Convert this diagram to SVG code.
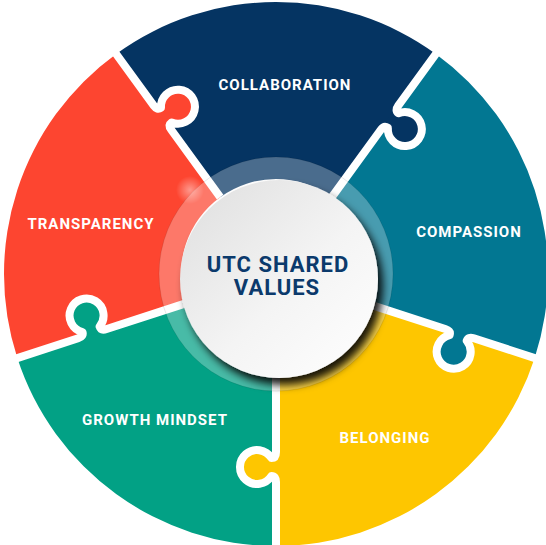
<svg xmlns="http://www.w3.org/2000/svg" width="546" height="545" viewBox="0 0 546 545">
  <defs>
    <!-- one 72-degree ring piece, drawn about the wheel centre -->
    <path id="sector" d="M 272 0 A 272 272 0 0 1 84.05 258.69 L 29.36 90.35 A 95 95 0 0 0 95 0 Z"/>
    <!-- puzzle tab that sits on the clockwise edge of a piece -->
    <path id="tab" d="M 184 -1 L 184 4.6 A 17 17 0 1 0 202 4.6 L 202 -1 Z"/>
    <!-- white seam between two pieces, including the tab outline -->
    <path id="seam" d="M 95 0 L 178 0 Q 184 0 184 4.6 A 17 17 0 1 0 202 4.6 Q 202 0 208 0 L 292 0"/>
    <linearGradient id="hubFill" x1="0" y1="0" x2="1" y2="1">
      <stop offset="0" stop-color="#dedede"/>
      <stop offset="0.55" stop-color="#f4f4f4"/>
      <stop offset="1" stop-color="#ffffff"/>
    </linearGradient>
    <radialGradient id="glow">
      <stop offset="0" stop-color="#ffffff" stop-opacity="0.45"/>
      <stop offset="1" stop-color="#ffffff" stop-opacity="0"/>
    </radialGradient>
    <filter id="hubShadow" x="-20%" y="-20%" width="150%" height="150%">
      <feGaussianBlur in="SourceAlpha" stdDeviation="4"/>
      <feOffset dx="5" dy="7" result="blur"/>
      <feFlood flood-color="#000000" flood-opacity="0.9"/>
      <feComposite in2="blur" operator="in"/>
      <feMerge>
        <feMergeNode/>
        <feMergeNode in="SourceGraphic"/>
      </feMerge>
    </filter>
    <style>
      .navy { fill: #053462; }
      .teal { fill: #027792; }
      .gold { fill: #fec600; }
      .green { fill: #02a185; }
      .red { fill: #fd4530; }
      .seam { fill: none; stroke: #ffffff; stroke-width: 8; stroke-linejoin: round; }
      .label { font-family: Roboto, "Liberation Sans", sans-serif; font-weight: 700; font-size: 15px; letter-spacing: 1px; fill: #ffffff; text-anchor: middle; }
      .title { font-family: Roboto, "Liberation Sans", sans-serif; font-weight: 700; font-size: 22px; letter-spacing: 1px; fill: #0b3a6c; text-anchor: middle; }
    </style>
  </defs>

  <rect width="546" height="545" fill="#ffffff"/>

  <g id="collaboration">
    <use href="#sector" class="navy" transform="translate(276 274) rotate(-126)"/>
    <text class="label" x="285" y="90">COLLABORATION</text>
  </g>
  <g id="compassion">
    <use href="#sector" class="teal" transform="translate(276 274) rotate(-54)"/>
    <text class="label" x="469" y="237">COMPASSION</text>
  </g>
  <g id="belonging">
    <use href="#sector" class="gold" transform="translate(276 274) rotate(18)"/>
    <text class="label" x="385" y="443">BELONGING</text>
  </g>
  <g id="growth-mindset">
    <use href="#sector" class="green" transform="translate(276 274) rotate(90)"/>
    <text class="label" x="155" y="425">GROWTH MINDSET</text>
  </g>
  <g id="transparency">
    <use href="#sector" class="red" transform="translate(276 274) rotate(162)"/>
    <text class="label" x="91" y="229">TRANSPARENCY</text>
  </g>

  <!-- interlocking tabs and the white seams between the pieces -->
  <g id="seams" transform="translate(276 274)">
    <use href="#tab" class="red" transform="rotate(-126)"/>
    <use href="#tab" class="navy" transform="rotate(-54)"/>
    <use href="#tab" class="teal" transform="rotate(18)"/>
    <use href="#tab" class="gold" transform="rotate(90)"/>
    <use href="#tab" class="green" transform="rotate(162)"/>
    <use href="#seam" class="seam" transform="rotate(-126)"/>
    <use href="#seam" class="seam" transform="rotate(-54)"/>
    <use href="#seam" class="seam" transform="rotate(18)"/>
    <use href="#seam" class="seam" transform="rotate(90)"/>
    <use href="#seam" class="seam" transform="rotate(162)"/>
  </g>

  <g id="hub">
    <!-- translucent halo round the hub -->
    <circle cx="276" cy="274" r="117" fill="#ffffff" fill-opacity="0.28" stroke="#000000" stroke-opacity="0.12" stroke-width="0.8"/>
    <circle cx="190" cy="190" r="14" fill="url(#glow)"/>
    <circle cx="279" cy="279" r="99" fill="url(#hubFill)" filter="url(#hubShadow)"/>
    <text class="title" x="278" y="272">UTC SHARED</text>
    <text class="title" x="277" y="295">VALUES</text>
  </g>
</svg>
